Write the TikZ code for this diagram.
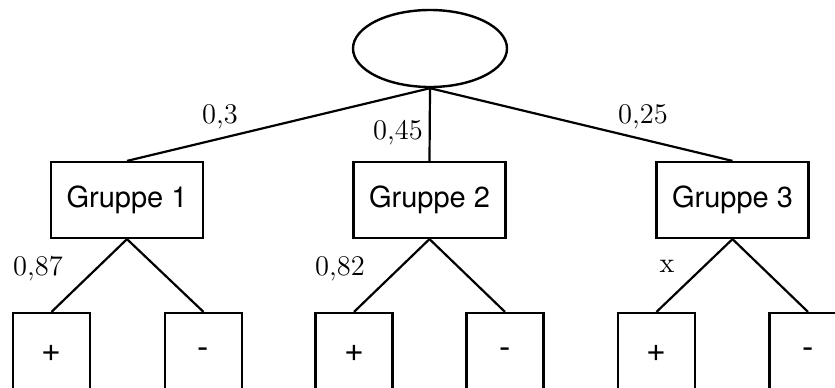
\documentclass[tikz,border=0pt]{standalone}
\usepackage{fontspec}
\newfontfamily\boxfont{TeX Gyre Heros}
\usetikzlibrary{shapes.geometric}
\begin{document}
\begin{tikzpicture}[x=0.5pt,y=-0.5pt,
  box/.style={draw,line width=1.1pt,rectangle,inner sep=0pt,font=\boxfont\fontsize{14.5}{17}\selectfont},
  grp/.style={box,minimum width=76pt,minimum height=38pt},
  leaf/.style={box,minimum width=38.5pt,minimum height=40pt,font=\boxfont\fontsize{17}{20}\selectfont},
  lab/.style={inner sep=0pt,font=\fontsize{14.25}{17}\selectfont},
  conn/.style={line width=1.1pt}]
\useasboundingbox (0,0) rectangle (835,387);
\clip (0,0) rectangle (835,387);
\node[draw,ellipse,line width=1.2pt,minimum width=77pt,minimum height=38.5pt,inner sep=0pt] (root) at (430,48.5) {};
\node[grp] (g1) at (127,200) {Gruppe 1};
\node[grp] (g2) at (429.5,200) {Gruppe 2};
\node[grp] (g3) at (732.5,200) {Gruppe 3};
\node[leaf] (p1) at (51.5,353) {+};
\node[leaf] (m1) at (203.5,353) {-};
\node[leaf] (p2) at (354,353) {+};
\node[leaf] (m2) at (505,353) {-};
\node[leaf] (p3) at (656.5,353) {+};
\node[leaf] (m3) at (808,353) {-};
\draw[conn] (root.south) -- (g1.north);
\draw[conn] (root.south) -- (g2.north);
\draw[conn] (root.south) -- (g3.north);
\foreach \g/\p/\m in {g1/p1/m1,g2/p2/m2,g3/p3/m3}{
  \draw[conn] (\g.south) -- (\p.north);
  \draw[conn] (\g.south) -- (\m.north);
}
\node[lab] (l1) at (220,117) {0,3};
\node[lab] (l2) at (398,133) {0,45};
\node[lab] (l3) at (643,117) {0,25};
\node[lab] (l4) at (38,269) {0,87};
\node[lab] (l5) at (340,269) {0,82};
\node[lab] (l6) at (667,266.5) {x};
\end{tikzpicture}
\end{document}
